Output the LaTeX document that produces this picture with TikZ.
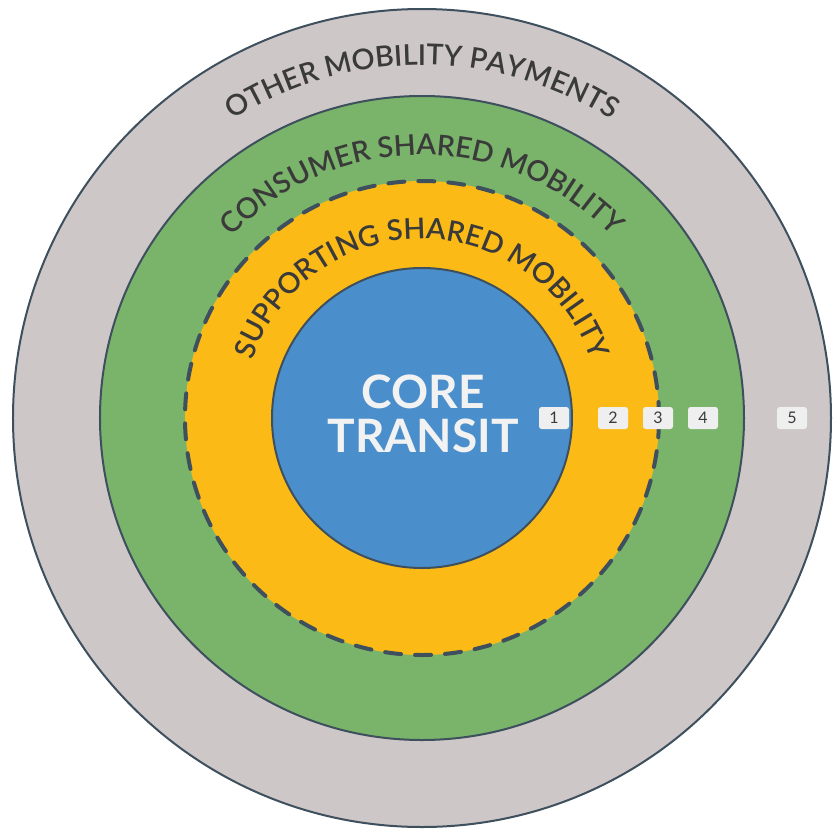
\documentclass[tikz,border=0pt]{standalone}
\usepackage{fontspec}
\setmainfont{Lato}
\newfontfamily\ringfont{Lato Semibold}
\usepackage{tikz}
\usetikzlibrary{decorations.text}
\definecolor{ringgrey}{HTML}{CDC7C7}
\definecolor{ringgreen}{HTML}{7AB46B}
\definecolor{ringyellow}{HTML}{FBBA16}
\definecolor{coreblue}{HTML}{4A8FCB}
\definecolor{edgeslate}{HTML}{3E4F5D}
\definecolor{labelgrey}{HTML}{3A3A3A}
\definecolor{tagfill}{HTML}{EFEFEF}
\definecolor{corewhite}{HTML}{F2F2F2}

\begin{document}
\begin{tikzpicture}[x = 0.75pt, y = 0.75pt,
        ringline/.style = {draw = edgeslate, line width = 1.5pt},
        tag/.style = {fill = tagfill, rounded corners = 2pt, minimum width = 22.5pt, minimum height = 16.5pt, inner sep = 0pt, text = labelgrey, font = \fontsize{12}{12}\selectfont},
        ringtext/.style = {decorate, decoration = {text along path, text align = center, text color = labelgrey, text = {|\ringfont\fontsize{21.5}{21.5}\selectfont|#1}}}]
        \useasboundingbox (-422, -411) rectangle (416, 418);
        \fill[ringgrey, ringline] (0, 0) circle (409);
        \fill[ringgreen, ringline] (0, 0) circle (322);
        \fill[ringyellow] (0, 0) circle (237);
        \draw[edgeslate, line width = 3pt, line cap = round, dash pattern = on 12pt off 10.5pt] (0, 0) circle (237);
        \fill[coreblue, ringline] (0, 0) circle (150);
        \path[ringtext = {OTHER MOBILITY PAYMENTS}] (-353, 0) arc[start angle = 180, end angle = 0, radius = 353];
        \path[ringtext = {CONSUMER SHARED MOBILITY}] (-263, 0) arc[start angle = 180, end angle = 0, radius = 263];
        \path[ringtext = {SUPPORTING SHARED MOBILITY}] (-179, 0) arc[start angle = 180, end angle = 0, radius = 179];
        \node[align = center, text = corewhite, font = \bfseries\fontsize{34.5}{32.5}\selectfont] (core) at (1, 4) {CORE\\TRANSIT};
        \node[tag] (tag1) at (132, 0) {1};
        \node[tag] (tag2) at (191, 0) {2};
        \node[tag] (tag3) at (236, 0) {3};
        \node[tag] (tag4) at (281, 0) {4};
        \node[tag] (tag5) at (370, 0) {5};
      \end{tikzpicture}
\end{document}
